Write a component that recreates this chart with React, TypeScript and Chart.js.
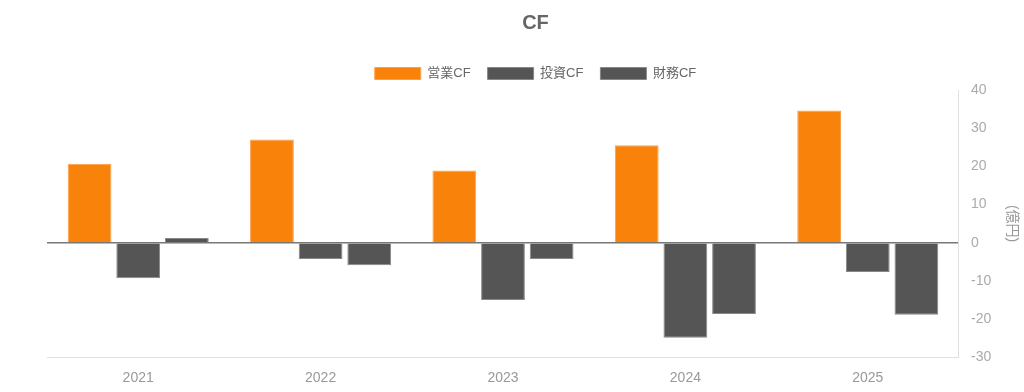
import React, { useEffect, useRef } from "react";
import { Chart, registerables } from "chart.js";

Chart.register(...registerables);

const years = ["2021", "2022", "2023", "2024", "2025"];
const operatingCF = [20.7, 27.0, 18.9, 25.5, 34.6];
const investingCF = [-9.3, -4.3, -15.0, -24.9, -7.7];
const financingCF = [1.2, -5.9, -4.3, -18.7, -18.9];
const seriesNames = ["営業CF", "投資CF", "財務CF"];
const titleText = "CF";
const unitLabel = "(億円)";

const FONT = "'Liberation Sans', Arial, 'Noto Sans CJK JP', sans-serif";

export default function App() {
  const ref = useRef<HTMLCanvasElement | null>(null);
  useEffect(() => {
    if (!ref.current) return;
    const chart = new Chart(ref.current, {
      type: "bar",
      data: {
        labels: years,
        datasets: [
          { label: seriesNames[0], data: operatingCF, backgroundColor: "#F8820A", borderColor: "#FBA04A", borderWidth: 1 },
          { label: seriesNames[1], data: investingCF, backgroundColor: "#555555", borderColor: "#888888", borderWidth: 1 },
          { label: seriesNames[2], data: financingCF, backgroundColor: "#555555", borderColor: "#888888", borderWidth: 1 },
        ],
      },
      options: {
        animation: false,
        responsive: true,
        maintainAspectRatio: false,
        layout: { padding: { left: 47, right: 0, top: 9, bottom: 0 } },
        plugins: {
          title: {
            display: true,
            text: titleText,
            color: "#666666",
            font: { family: FONT, size: 20, weight: "bold" },
            padding: { top: 2, bottom: 15 },
          },
          legend: {
            display: true,
            labels: {
              color: "#666666",
              boxWidth: 46,
              boxHeight: 12,
              font: { family: FONT, size: 13 },
              padding: 17,
            },
          },
          tooltip: { enabled: false },
        },
        scales: {
          x: {
            grid: { display: false, drawTicks: false },
            border: { display: true, color: "#E0E0E0" },
            ticks: { color: "#999999", font: { family: FONT, size: 14 }, padding: 13 },
          },
          y: {
            position: "right",
            min: -30,
            max: 40,
            ticks: { stepSize: 10, color: "#AAAAAA", font: { family: FONT, size: 14 }, padding: 12 },
            grid: {
              drawTicks: false,
              color: (ctx: any) => (ctx.tick && ctx.tick.value === 0 ? "#777777" : "rgba(0,0,0,0)"),
              lineWidth: (ctx: any) => (ctx.tick && ctx.tick.value === 0 ? 1.5 : 0),
            },
            border: { display: true, color: "#E0E0E0" },
            title: {
              display: true,
              text: unitLabel,
              color: "#999999",
              font: { family: FONT, size: 14 },
              padding: { top: 4, bottom: 0 },
            },
          },
        },
      },
    });
    return () => chart.destroy();
  }, []);
  return (
    <div style={{ position: "fixed", left: 0, top: 0, width: 1024, height: 400, background: "#fff" }}>
      <canvas ref={ref} />
    </div>
  );
}
